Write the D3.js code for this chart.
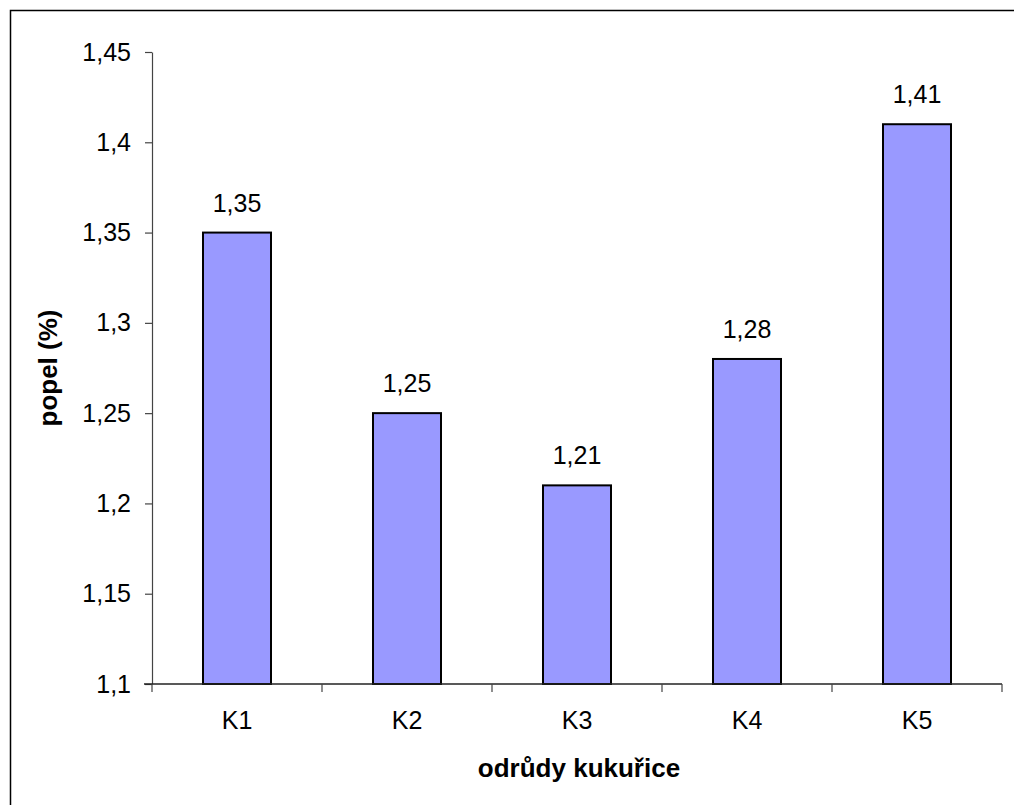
<!DOCTYPE html>
<html>
<head>
<meta charset="utf-8">
<script src="https://cdn.jsdelivr.net/npm/d3@7"></script>
<style>
  html, body { margin: 0; padding: 0; background: #fff; }
  svg { display: block; font-family: "Liberation Sans", Arial, sans-serif; }
</style>
</head>
<body>
<svg id="chart" width="1014" height="805"></svg>
<script>
// Ash content of maize varieties
const categories = ["K1", "K2", "K3", "K4", "K5"];
const values = [1.35, 1.25, 1.21, 1.28, 1.41];
const yTicks = [1.1, 1.15, 1.2, 1.25, 1.3, 1.35, 1.4, 1.45];
const yLabel = "popel (%)";
const xLabel = "odrůdy kukuřice";

const svg = d3.select("#chart");
const fmt = v => String(+v.toFixed(2)).replace(".", ",");
const FS = 25;      // regular text size
const FSB = 26;     // bold title size

// outer frame
svg.append("rect")
  .attr("x", 10.5).attr("y", 10.5)
  .attr("width", 1020).attr("height", 820)
  .attr("fill", "none").attr("stroke", "#000").attr("stroke-width", 1.5);

const plot = { left: 152, right: 1002, top: 52, bottom: 684 };

const x = d3.scaleBand().domain(categories)
  .range([plot.left, plot.right]).paddingInner(0.6).paddingOuter(0.3);
const xOuter = d3.scaleBand().domain(categories).range([plot.left, plot.right]);
const y = d3.scaleLinear().domain([1.1, 1.45]).range([plot.bottom, plot.top]);

// bars
svg.append("g").selectAll("rect").data(values).join("rect")
  .attr("x", (d, i) => x(categories[i]))
  .attr("y", d => y(d))
  .attr("width", x.bandwidth())
  .attr("height", d => y(1.1) - y(d))
  .attr("fill", "#9999FF")
  .attr("stroke", "#000").attr("stroke-width", 2);

// value labels
svg.append("g").selectAll("text").data(values).join("text")
  .attr("x", (d, i) => x(categories[i]) + x.bandwidth() / 2)
  .attr("y", d => y(d) - 21)
  .attr("text-anchor", "middle")
  .attr("font-size", FS)
  .attr("fill", "#000")
  .text(d => fmt(d));

// y axis
const yAxis = d3.axisLeft(y).tickValues(yTicks).tickFormat(fmt).tickSizeInner(7).tickSizeOuter(0).tickPadding(14);
const gy = svg.append("g").attr("transform", `translate(${plot.left},0)`).call(yAxis);
gy.select(".domain").attr("stroke", "#444").attr("stroke-width", 1.2);
gy.selectAll(".tick line").attr("stroke", "#444").attr("stroke-width", 1.2);
gy.selectAll(".tick text").attr("font-size", FS).attr("fill", "#000").attr("font-family", "Liberation Sans, Arial, sans-serif");

// x axis: ticks at band boundaries, labels at band centres
const gx = svg.append("g").attr("transform", `translate(0,${plot.bottom})`);
gx.append("line").attr("x1", plot.left - 8).attr("x2", plot.right)
  .attr("stroke", "#222").attr("stroke-width", 1.5);
const edges = categories.map(c => xOuter(c)).concat([plot.right]);
gx.selectAll("line.tk").data(edges).join("line").attr("class", "tk")
  .attr("x1", d => d).attr("x2", d => d).attr("y1", 0).attr("y2", 8)
  .attr("stroke", "#444").attr("stroke-width", 1.2);
gx.selectAll("text").data(categories).join("text")
  .attr("x", d => xOuter(d) + xOuter.bandwidth() / 2)
  .attr("y", 45)
  .attr("text-anchor", "middle")
  .attr("font-size", FS).attr("fill", "#000")
  .text(d => d);

// axis titles
svg.append("text")
  .attr("transform", `translate(57,${(plot.top + plot.bottom) / 2}) rotate(-90)`)
  .attr("text-anchor", "middle")
  .attr("font-size", FSB).attr("font-weight", "bold")
  .text(yLabel);
svg.append("text")
  .attr("x", 579).attr("y", 777)
  .attr("text-anchor", "middle")
  .attr("font-size", FSB).attr("font-weight", "bold")
  .text(xLabel);
</script>
</body>
</html>
